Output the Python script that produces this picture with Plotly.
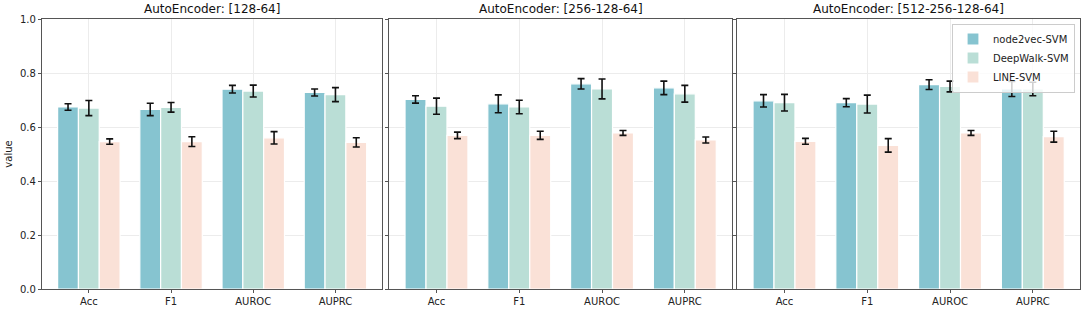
import plotly.graph_objects as go

metrics = ["Acc", "F1", "AUROC", "AUPRC"]
panels = ["AutoEncoder: [128-64]", "AutoEncoder: [256-128-64]", "AutoEncoder: [512-256-128-64]"]
methods = ["node2vec-SVM", "DeepWalk-SVM", "LINE-SVM"]

# values[panel] -> per metric
node2vec_vals = [[0.674, 0.665, 0.740, 0.728], [0.702, 0.686, 0.760, 0.745], [0.697, 0.690, 0.757, 0.741]]
node2vec_err = [[0.012, 0.023, 0.014, 0.013], [0.0135, 0.033, 0.019, 0.025], [0.023, 0.015, 0.018, 0.028]]
deepwalk_vals = [[0.670, 0.673, 0.733, 0.720], [0.677, 0.674, 0.741, 0.723], [0.690, 0.685, 0.750, 0.741]]
deepwalk_err = [[0.028, 0.018, 0.022, 0.026], [0.030, 0.025, 0.037, 0.031], [0.031, 0.033, 0.020, 0.025]]
line_vals = [[0.546, 0.546, 0.560, 0.543], [0.569, 0.569, 0.578, 0.552], [0.547, 0.532, 0.578, 0.564]]
line_err = [[0.010, 0.018, 0.023, 0.017], [0.012, 0.015, 0.009, 0.011], [0.011, 0.025, 0.009, 0.020]]

colors = ["rgb(134,196,208)", "rgb(186,222,214)", "rgb(250,225,215)"]

W, H = 1084, 310
ml, mr, mt, mb = 42, 4, 19, 21
pw = W - ml - mr
domains = [
    [0.0, (382.3 - ml) / pw],
    [(389.3 - ml) / pw, (732 - ml) / pw],
    [(737.3 - ml) / pw, 1.0],
]

fig = go.Figure()
font_family = "DejaVu Sans"
series = [(node2vec_vals, node2vec_err), (deepwalk_vals, deepwalk_err), (line_vals, line_err)]

for p in range(3):
    xa = "x" if p == 0 else f"x{p+1}"
    ya = "y" if p == 0 else f"y{p+1}"
    for m in range(3):
        vals, errs = series[m]
        fig.add_trace(go.Bar(
            x=metrics, y=vals[p],
            error_y=dict(type="data", array=errs[p], color="#111111", thickness=1.6, width=3.5),
            marker=dict(color=colors[m], line=dict(color="white", width=1.2)),
            name=methods[m], legendgroup=methods[m], showlegend=(p == 2),
            xaxis=xa, yaxis=ya, offsetgroup=str(m),
        ))
    axkw = dict(showline=True, linecolor="#555555", linewidth=1.3, mirror=True,
                showgrid=True, gridcolor="#ececec", gridwidth=1,
                ticks="outside", ticklen=3, tickcolor="#555555",
                tickfont=dict(family=font_family, size=10, color="#222"))
    fig.update_layout(**{
        ("xaxis" if p == 0 else f"xaxis{p+1}"): dict(domain=domains[p], anchor=ya,
                                                     range=[-0.57, 3.57], **axkw),
        ("yaxis" if p == 0 else f"yaxis{p+1}"): dict(domain=[0, 1], anchor=xa, range=[0, 1.0],
                                                     tickvals=[0, 0.2, 0.4, 0.6, 0.8, 1.0],
                                                     ticktext=["0.0", "0.2", "0.4", "0.6", "0.8", "1.0"],
                                                     showticklabels=(p == 0),
                                                     **axkw),
    })
    fig.add_annotation(text=panels[p], x=(domains[p][0] + domains[p][1]) / 2, y=1.0,
                       xref="paper", yref="paper", xanchor="center", yanchor="bottom",
                       yshift=1, showarrow=False,
                       font=dict(family=font_family, size=12, color="#111"))

fig.update_layout(yaxis_title=dict(text="value", font=dict(family=font_family, size=10, color="#222"), standoff=5))

fig.update_layout(
    width=W, height=H,
    margin=dict(l=ml, r=mr, t=mt, b=mb, autoexpand=False),
    paper_bgcolor="white", plot_bgcolor="white",
    barmode="group", bargap=0.24, bargroupgap=0.0,
    legend=dict(x=(1075 - ml) / pw, y=(289.5 - 24) / 270, xanchor="right", yanchor="top",
                bgcolor="rgba(255,255,255,0.8)", bordercolor="#cccccc", borderwidth=1,
                font=dict(family=font_family, size=10, color="#222"),
                itemwidth=30, tracegroupgap=0),
    font=dict(family=font_family),
)

fig.write_html("out.html", config={"displayModeBar": False},
               post_script="document.body.style.margin='0';document.body.style.overflow='hidden';")
